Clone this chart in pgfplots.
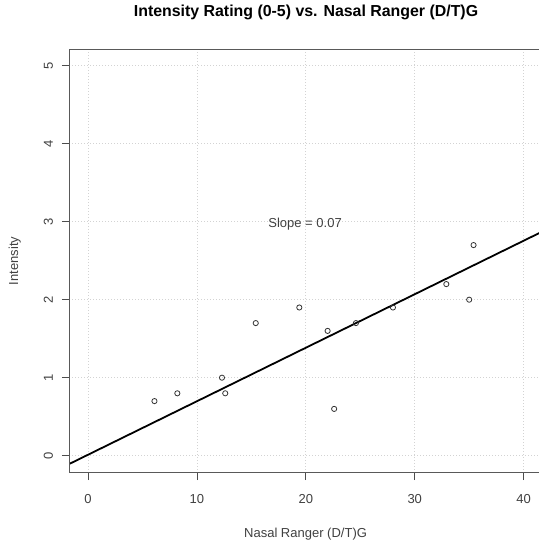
\documentclass[border=0pt]{standalone}
\usepackage{pgfplots}
\pgfplotsset{compat=1.18}
\usepackage{fontspec}
\setmainfont{Liberation Sans}
\definecolor{gridc}{HTML}{D3D3D3}
\definecolor{txt}{HTML}{404040}
\begin{document}
\begin{tikzpicture}
\path[use as bounding box] (-69.3bp,-71.3bp) rectangle (469.7bp,472.7bp);
\begin{axis}[
  at={(0,0)}, anchor=south west,
  scale only axis, width=469.7bp, height=423.4bp,
  xmin=-1.72, xmax=41.41, ymin=-0.218, ymax=5.21,
  xtick={0,10,20,30,40}, ytick={0,1,2,3,4,5},
  tick pos=left, tick align=outside, major tick length=7.5bp,
  tick style={black!70, line width=0.8bp},
  grid=major, grid style={gridc, dash pattern=on 1bp off 2bp, line width=0.8bp},
  axis line style={draw=none},
  ticklabel style={font=\fontsize{13bp}{13bp}\selectfont, text=txt},
  /pgf/number format/assume math mode=true,
  xticklabel style={anchor=base, yshift=-23bp},
  yticklabel style={rotate=90, anchor=base},
  yticklabel shift=9bp,
  title={Intensity Rating (0-5) vs. Nasal Ranger (D/T)G},
  title style={at={(axis description cs:0.504,1.0628)}, anchor=base, font=\bfseries\fontsize{15.9bp}{15.9bp}\selectfont, text=black},
  xlabel={Nasal Ranger (D/T)G},
  xlabel style={at={(axis description cs:0.503,-0.153)}, anchor=base, font=\fontsize{13bp}{13bp}\selectfont, text=txt},
  ylabel={Intensity},
  ylabel style={at={(axis description cs:-0.1092,0.5)}, rotate=0, anchor=base, font=\fontsize{13bp}{13bp}\selectfont, text=txt},
]
\addplot[only marks, mark=o, mark size=2.6bp, mark options={draw=black!80, line width=0.8bp}] coordinates {
  (6.1,0.7) (8.2,0.8) (12.3,1.0) (12.6,0.8) (15.4,1.7) (19.4,1.9) (22.0,1.6)
  (22.6,0.6) (24.6,1.7) (28.0,1.9) (32.9,2.2) (35.0,2.0) (35.4,2.7)
};
\addplot[black, line width=1.8bp] coordinates {(-2,-0.125) (42,2.893)};
\node[anchor=base, font=\fontsize{13bp}{13bp}\selectfont, text=txt] at (axis cs:19.93,2.928) {Slope = 0.07};
\end{axis}
\draw[black!65, line width=1bp] (current axis.south east) -- (current axis.south west) -- (current axis.north west) -- (current axis.north east);
\end{tikzpicture}
\end{document}
